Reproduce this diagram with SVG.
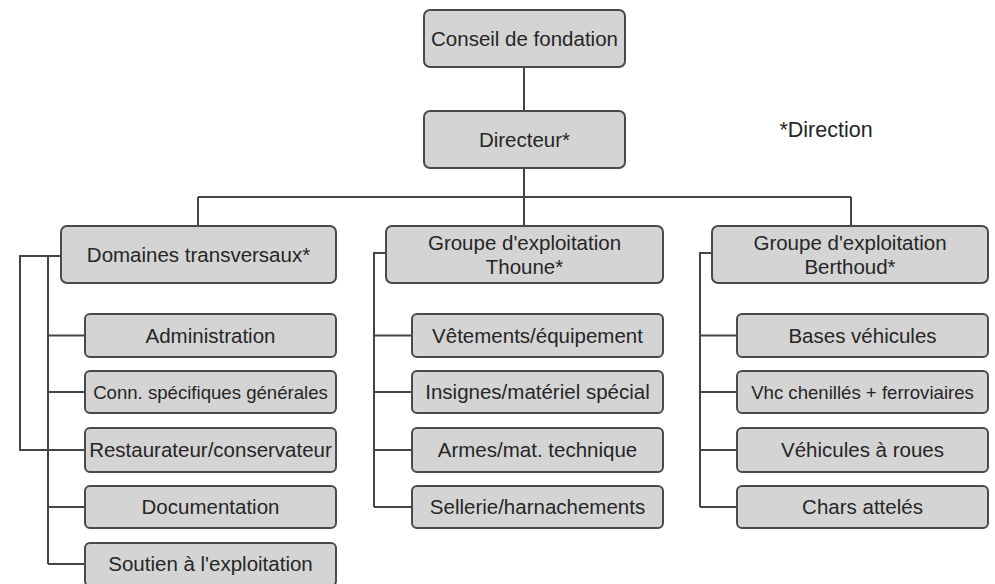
<svg xmlns="http://www.w3.org/2000/svg" width="995" height="584" viewBox="0 0 995 584">
<style>
.box{fill:#d4d4d4;stroke:#4a4a4a;stroke-width:2}
.t{font-family:"Liberation Sans",Arial,sans-serif;font-size:20.5px;fill:#262626;text-anchor:middle}
.s{font-size:18.6px}
.c{fill:none;stroke:#444;stroke-width:2}
</style>
<rect width="995" height="584" fill="#ffffff"/>
<g id="connectors">
<path class="c" d="M524 67V111M524 168V197M198 197H851M198 197V226M524 197V226M851 197V226"/>
<path class="c" d="M61 256H20V450H85M48 256V564M48 335.5H85M48 392H85M48 507H85M48 564H85"/>
<path class="c" d="M386 253H374V507M374 335.5H412M374 392H412M374 450H412M374 507H412"/>
<path class="c" d="M712 253H700V507M700 335.5H737M700 392H737M700 450H737M700 507H737"/>
</g>
<g id="conseil"><rect class="box" x="424" y="10" width="201" height="57" rx="6"/><text class="t" x="524.5" y="46">Conseil de fondation</text></g>
<g id="directeur"><rect class="box" x="424" y="111" width="201" height="57" rx="6"/><text class="t" x="524.5" y="147">Directeur*</text></g>
<g id="legend"><text class="t" x="826" y="137" style="font-size:21.5px">*Direction</text></g>
<g id="domaines"><rect class="box" x="61" y="226" width="275" height="57" rx="6"/><text class="t" x="198.5" y="262">Domaines transversaux*</text></g>
<g id="thoune"><rect class="box" x="386" y="226" width="277" height="57" rx="6"/><text class="t" x="524.5" y="250">Groupe d'exploitation</text><text class="t" x="524.5" y="274">Thoune*</text></g>
<g id="berthoud"><rect class="box" x="712" y="226" width="276" height="57" rx="6"/><text class="t" x="850" y="250">Groupe d'exploitation</text><text class="t" x="850" y="274">Berthoud*</text></g>
<g id="administration"><rect class="box" x="85" y="314" width="251" height="43" rx="5"/><text class="t" x="210.5" y="343">Administration</text></g>
<g id="conn"><rect class="box" x="85" y="371" width="251" height="42" rx="5"/><text class="t s" x="210.5" y="399">Conn. spécifiques générales</text></g>
<g id="restaurateur"><rect class="box" x="85" y="428" width="251" height="44" rx="5"/><text class="t" x="210.5" y="457">Restaurateur/conservateur</text></g>
<g id="documentation"><rect class="box" x="85" y="486" width="251" height="42" rx="5"/><text class="t" x="210.5" y="514">Documentation</text></g>
<g id="soutien"><rect class="box" x="85" y="543" width="251" height="43" rx="5"/><text class="t" x="210.5" y="571">Soutien à l'exploitation</text></g>
<g id="vetements"><rect class="box" x="412" y="314" width="251" height="43" rx="5"/><text class="t" x="537.5" y="343">Vêtements/équipement</text></g>
<g id="insignes"><rect class="box" x="412" y="371" width="251" height="42" rx="5"/><text class="t" x="537.5" y="399">Insignes/matériel spécial</text></g>
<g id="armes"><rect class="box" x="412" y="428" width="251" height="44" rx="5"/><text class="t" x="537.5" y="457">Armes/mat. technique</text></g>
<g id="sellerie"><rect class="box" x="412" y="486" width="251" height="42" rx="5"/><text class="t" x="537.5" y="514">Sellerie/harnachements</text></g>
<g id="bases"><rect class="box" x="737" y="314" width="251" height="43" rx="5"/><text class="t" x="862.5" y="343">Bases véhicules</text></g>
<g id="vhc"><rect class="box" x="737" y="371" width="251" height="42" rx="5"/><text class="t s" x="862.5" y="399">Vhc chenillés + ferroviaires</text></g>
<g id="roues"><rect class="box" x="737" y="428" width="251" height="44" rx="5"/><text class="t" x="862.5" y="457">Véhicules à roues</text></g>
<g id="chars"><rect class="box" x="737" y="486" width="251" height="42" rx="5"/><text class="t" x="862.5" y="514">Chars attelés</text></g>
</svg>
